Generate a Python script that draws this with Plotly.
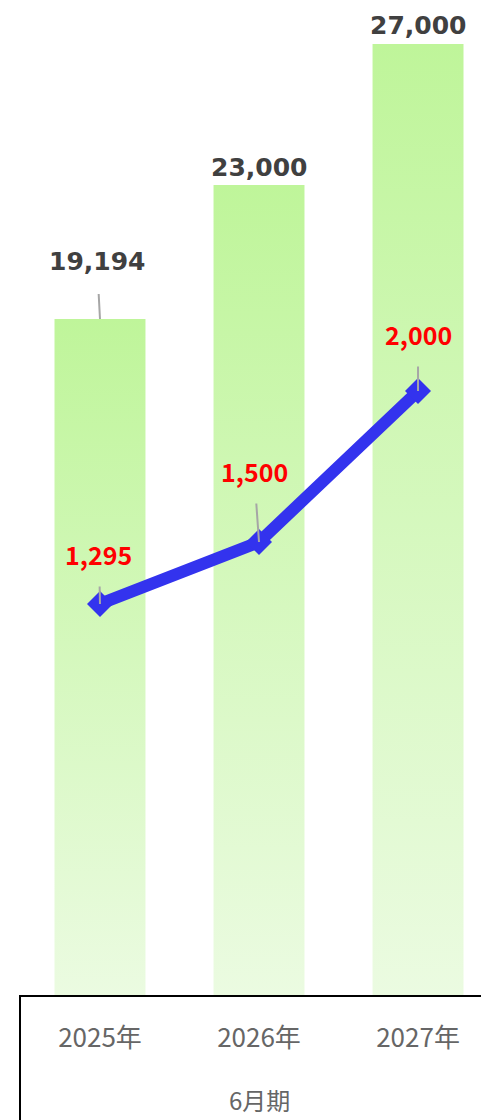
import plotly.graph_objects as go

categories = ["2025年", "2026年", "2027年"]
sales = [19194, 23000, 27000]
profit = [1295, 1500, 2000]
sales_labels = ["19,194", "23,000", "27,000"]
profit_labels = ["1,295", "1,500", "2,000"]
period_label = "6月期"

W, H = 481, 1120
ML, MR, MT, MB = 20, 0, 0, 125
plot_h = H - MT - MB

Y1_MAX = 28250
Y2_MAX = 3295
BAR_HALF = 0.286

fig = go.Figure()

# Bars as gradient-filled polygons
for i, v in enumerate(sales):
    fig.add_trace(go.Scatter(
        x=[i - BAR_HALF, i + BAR_HALF, i + BAR_HALF, i - BAR_HALF, i - BAR_HALF],
        y=[0, 0, v, v, 0],
        mode="lines", fill="toself", line=dict(width=0),
        fillgradient=dict(type="vertical",
                          colorscale=[[0, "#ebfbe1"], [1, "#bff59a"]]),
        hoverinfo="skip", showlegend=False, yaxis="y"))

fig.add_trace(go.Scatter(
    x=list(range(len(profit))), y=profit, yaxis="y2",
    mode="lines+markers",
    line=dict(color="#3333ee", width=12),
    marker=dict(symbol="diamond", size=20, color="#3333ee"),
    showlegend=False, hoverinfo="skip"))

ann = []
# bar labels
bar_offsets = [(-3, -57, True), (0, -17, False), (-1, -19, False)]
for i, (v, t) in enumerate(zip(sales, sales_labels)):
    ax, ay, arrow = bar_offsets[i]
    ann.append(dict(x=i, y=v, xref="x", yref="y", text=t,
                    showarrow=arrow, ax=ax, ay=ay, arrowhead=0,
                    arrowcolor="#a6a6a6", arrowwidth=2, startstandoff=16,
                    yshift=0 if arrow else -ay,
                    font=dict(family="DejaVu Sans", size=25, color="#404040", weight="bold")))
line_offsets = [(-1, -50), (-5, -71), (0, -57)]
for i, (v, t) in enumerate(zip(profit, profit_labels)):
    ax, ay = line_offsets[i]
    ann.append(dict(x=i, y=v, xref="x", yref="y2", text=t,
                    showarrow=True, ax=ax, ay=ay, arrowhead=0,
                    arrowcolor="#a6a6a6", arrowwidth=2, startstandoff=13,
                    font=dict(family="Noto Sans CJK JP", size=25, color="#ff0000", weight="bold")))
ann.append(dict(x=1, y=-(1099 - (H - MB)) / plot_h, xref="x", yref="paper",
                text=period_label, showarrow=False, yanchor="middle",
                font=dict(family="Noto Sans CJK JP", size=24, color="#666666")))

fig.update_layout(
    width=W, height=H,
    margin=dict(l=ML, r=MR, t=MT, b=MB, pad=0),
    paper_bgcolor="white", plot_bgcolor="white",
    showlegend=False,
    xaxis=dict(range=[-0.503, 2.396], tickmode="array", tickvals=[0, 1, 2],
               ticktext=categories, showgrid=False, zeroline=False,
               showline=True, linecolor="black", linewidth=2, ticks="",
               ticklabelstandoff=19,
               tickfont=dict(family="Noto Sans CJK JP", size=26, color="#666666")),
    yaxis=dict(range=[0, Y1_MAX], visible=False, showgrid=False),
    yaxis2=dict(range=[0, Y2_MAX], overlaying="y", visible=False, showgrid=False),
    annotations=ann,
    shapes=[dict(type="line", xref="paper", yref="paper", x0=0, x1=0,
                 y0=0, y1=-(MB + 5) / plot_h, line=dict(color="black", width=2))],
)

fig.write_html("out.html", config={"displayModeBar": False},
               post_script="document.body.style.margin='0';document.body.style.overflow='hidden';")
